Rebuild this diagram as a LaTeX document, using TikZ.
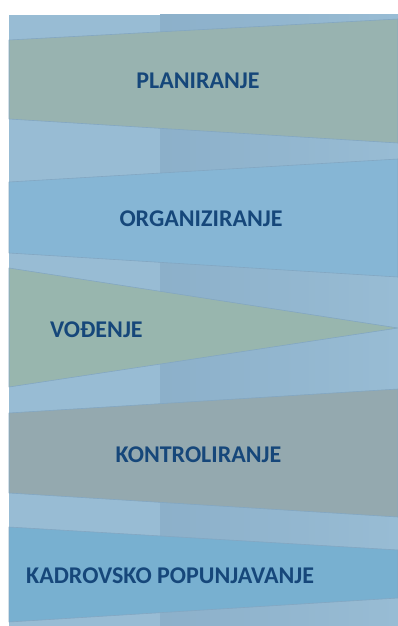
\documentclass[tikz,border=0pt]{standalone}
\usepackage{fontspec}
\setmainfont{Carlito}
\usetikzlibrary{positioning}
\definecolor{bgblue}{HTML}{98BCD4}
\definecolor{stripeblue}{HTML}{8CB0CA}
\definecolor{planfill}{HTML}{98B3B0}
\definecolor{orgfill}{HTML}{86B6D5}
\definecolor{vodfill}{HTML}{98B6AE}
\definecolor{konfill}{HTML}{94A9AF}
\definecolor{kadfill}{HTML}{78B0D0}
\definecolor{edgeline}{HTML}{83A7C2}
\definecolor{labelblue}{HTML}{16477A}
\tikzset{
  band/.style={
    draw=edgeline,
    line width=0.6pt,
    line join=round
  },
  stage/.style={
    font=\fontsize{24}{28}\selectfont\bfseries,
    text=labelblue,
    inner sep=0pt
  }
}

\begin{document}
\begin{tikzpicture}[x=1pt, y=-1pt]
\useasboundingbox (0,0) rectangle (398,626);
% background panel
\fill[bgblue] (9,15) rectangle (398,626);
\shade[left color=stripeblue, right color=bgblue] (160,15) rectangle (398,626);

% bands
\filldraw[band, fill=planfill] (9,40) -- (398,19) -- (398,143) -- (9,119) -- cycle;
\filldraw[band, fill=orgfill] (9,182) -- (398,159) -- (398,277) -- (9,253) -- cycle;
\filldraw[band, fill=vodfill] (9,268) -- (398,328) -- (9,387) -- cycle;
\filldraw[band, fill=konfill] (9,413) -- (398,389) -- (398,517) -- (9,493) -- cycle;
\filldraw[band, fill=kadfill] (9,527) -- (398,550) -- (398,598) -- (9,622) -- cycle;

% labels
\node[stage] (planiranje) at (198,81) {PLANIRANJE};
\node[stage] (organiziranje) at (201,219) {ORGANIZIRANJE};
\node[stage, anchor=west] (vodjenje) at (50,329.5) {VOĐENJE};
\node[stage] (kontroliranje) at (198.5,455) {KONTROLIRANJE};
\node[stage, anchor=west] (kadrovsko) at (26,575.5) {KADROVSKO POPUNJAVANJE};
\end{tikzpicture}
\end{document}
